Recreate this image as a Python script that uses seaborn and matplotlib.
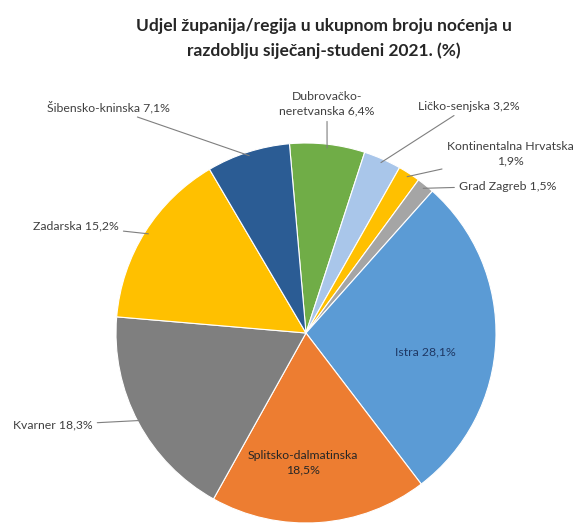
import numpy as np
import matplotlib
matplotlib.use("Agg")
import matplotlib.pyplot as plt
import seaborn as sns

# data (clockwise from the top)
regions = ["Dubrovačko-\nneretvanska", "Ličko-senjska", "Kontinentalna Hrvatska\n", "Grad Zagreb ",
           "Istra", "Splitsko-dalmatinska\n", "Kvarner", "Zadarska", "Šibensko-kninska"]
shares = [6.4, 3.2, 1.9, 1.5, 28.1, 18.5, 18.3, 15.2, 7.1]
colors = ["#70AD47", "#A9C6EA", "#FFC000", "#A5A5A5", "#5B9BD5", "#ED7D31", "#7F7F7F", "#FFC000", "#2B5C94"]

sns.set_theme(style="white")
plt.rcParams["font.family"] = ["Lato", "DejaVu Sans"]

W, H = 576, 528
fig = plt.figure(figsize=(W / 100, H / 100), dpi=100)
ax = fig.add_axes([0, 0, 1, 1])

# pie centre / radius in pixels of the reference
cx, cy, r = 306, 333, 190
wedges, _ = ax.pie(shares, colors=colors, startangle=95, counterclock=False,
                   wedgeprops=dict(edgecolor="white", linewidth=0.8))
ax.set_xlim(-cx / r, (W - cx) / r)
ax.set_ylim(-(H - cy) / r, cy / r)
ax.set_aspect("auto")
ax.axis("off")


def fmt(v):
    return f"{v:.1f}%".replace(".", ",")


# label text positions (pixels, top-left origin) and alignment
label_pos = [(327, 104, "center"), (418, 106, "left"), (510, 154, "center"), (459, 186, "left"),
             (425, 352, "center"), (303, 463, "center"), (13, 425, "left"), (33, 226, "left"), (47, 107, "left")]
inside = [False, False, False, False, True, True, False, False, False]

for w, name, v, (tx, ty, ha), ins in zip(wedges, regions, shares, label_pos, inside):
    if name.endswith("\n") or name.endswith(" "):
        txt = name + fmt(v)
    else:
        txt = name + " " + fmt(v)
    if ins:
        col = "#1F3864" if name == "Istra" else "#262626"
        ax.text(tx, H - ty, txt, transform=None, fontsize=8.8, color=col,
                ha=ha, va="center", linespacing=1.4, multialignment="center")
        continue
    ang = np.deg2rad((w.theta1 + w.theta2) / 2)
    ax.annotate(txt, xy=(0.98 * np.cos(ang), 0.98 * np.sin(ang)), xycoords="data",
                xytext=(tx, H - ty), textcoords="figure pixels",
                fontsize=8.8, color="#404040", ha=ha, va="center", linespacing=1.4,
                multialignment="center",
                arrowprops=dict(arrowstyle="-", color="#7F7F7F", lw=0.8, shrinkA=1, shrinkB=0))

fig.text(324 / W, 1 - 38.5 / H, "Udjel županija/regija u ukupnom broju noćenja u\nrazdoblju siječanj-studeni 2021. (%)",
         ha="center", va="center", fontsize=12.5, fontweight="bold", color="#262626", linespacing=1.55)

fig.savefig("out.png", dpi=100, facecolor="white")
